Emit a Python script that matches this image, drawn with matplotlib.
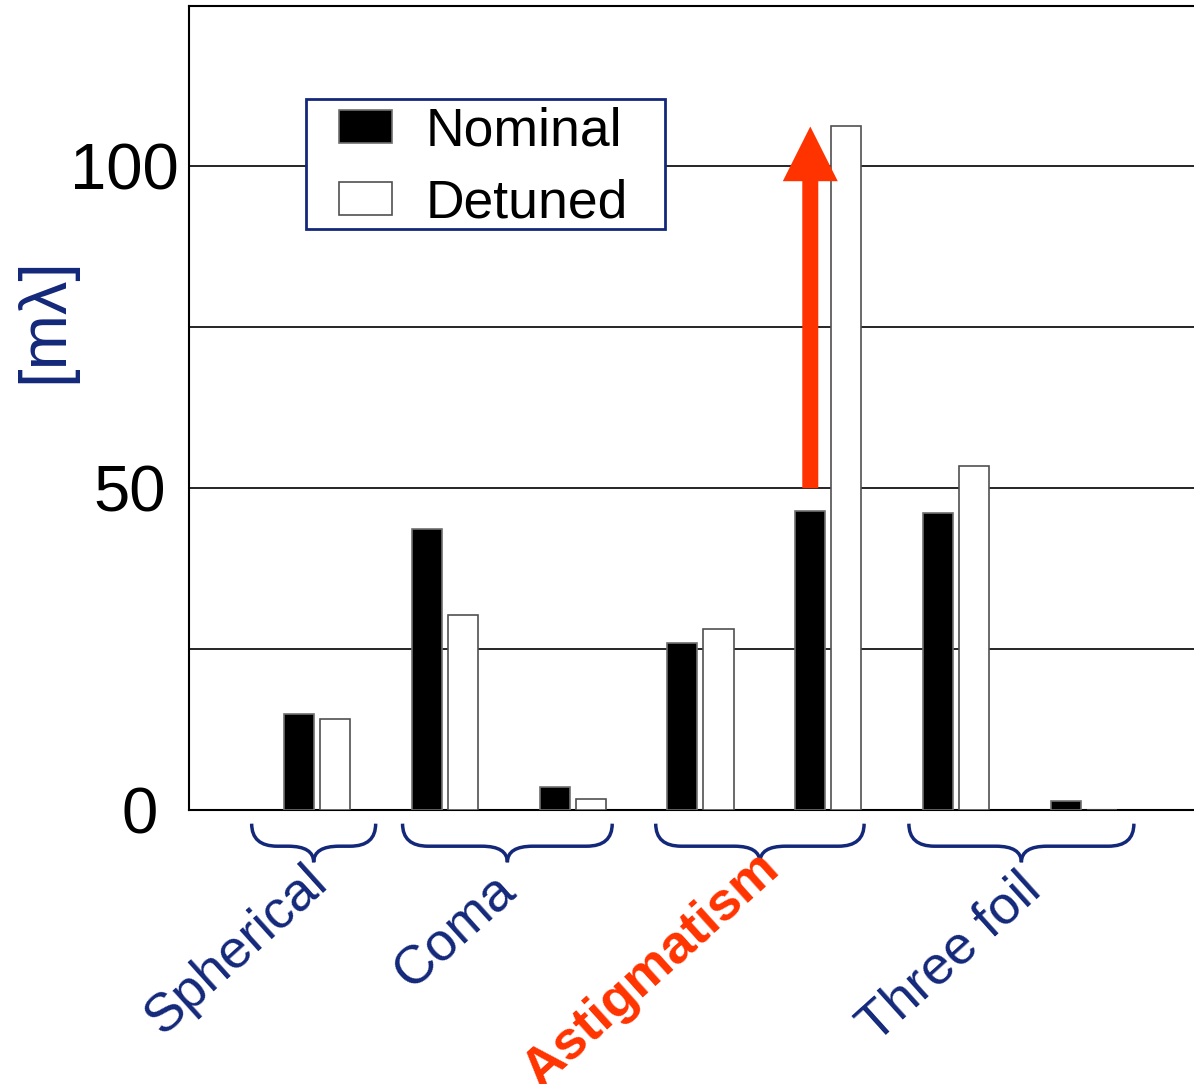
import matplotlib
matplotlib.use('Agg')
import numpy as np
from matplotlib import pyplot as plt
from matplotlib.path import Path
from matplotlib.patches import PathPatch, FancyArrow, Rectangle
from matplotlib import transforms

plt.rcParams['font.family'] = ['Liberation Sans', 'DejaVu Sans']

# bar values [m lambda], one per term, x positions 1..7
nominal = [14.9, 43.6, 3.6, 25.9, 46.5, 46.1, 1.4]
detuned = [14.1, 30.3, 1.7, 28.1, 106.2, 53.5, 0.0]

# aberration groups and the x-range each brace covers
groups = ['Spherical', 'Coma', 'Astigmatism', 'Three foil']
group_span = [(0.49, 1.46), (1.67, 3.31), (3.65, 5.28), (5.63, 7.39)]
group_label_xy = [(237, 950), (455, 932), (652, 970), (950, 958)]  # pixel centres

yticks = [0, 25, 50, 75, 100, 125]
ylabels = ['0', '', '50', '', '100', '']
ylabel_centre_px = [140, 0, 130, 0, 124, 0]  # label centres from left edge

navy = '#14287a'
red = '#ff3300'

fig = plt.figure(figsize=(11.94, 10.84), dpi=100)
ax = fig.add_axes([189/1194, (1084-810)/1084, 1 - 189/1194, (810-5.5)/1084])

x = np.arange(1, len(nominal) + 1)
w = 0.235
off = 0.141
ax.bar(x - off, nominal, w, color='black', edgecolor='#707070', lw=1.2, label='Nominal', zorder=3)
ax.bar(x + off, detuned, w, color='white', edgecolor='#505050', lw=1.2, label='Detuned', zorder=3)

ax.set_xlim(0, 7.86)
ax.set_ylim(0, 125)
ax.set_yticks(yticks)
ax.set_yticklabels(ylabels)
ax.tick_params(axis='y', length=0, pad=0, labelsize=47)
for lab, cx in zip(ax.get_yticklabels(), ylabel_centre_px):
    lab.set_horizontalalignment('center')
    lab.set_transform(lab.get_transform() + transforms.ScaledTranslation((cx - 189)/100, 0, fig.dpi_scale_trans))
ax.set_xticks([])
ax.grid(axis='y', color='black', lw=1.2, zorder=0)
ax.spines['right'].set_visible(False)
for s in ['left', 'top', 'bottom']:
    ax.spines[s].set_linewidth(1.5)

# arrow from nominal to detuned on the big astigmatism term
ax.add_patch(FancyArrow(5 - off, 50, 0, detuned[4] - 50, width=0.125, head_width=0.43,
                        head_length=8.5, length_includes_head=True, color=red, lw=0, zorder=4))

# legend box drawn by hand, legend itself without frame
ax.add_patch(Rectangle((0.116, 0.722), 0.358, 0.162, transform=ax.transAxes,
                       facecolor='white', edgecolor=navy, lw=2, zorder=5))
leg = ax.legend(loc='upper left', bbox_to_anchor=(0.149, 0.875), borderaxespad=0,
                fontsize=38.5, frameon=False, handlelength=1.0,
                handleheight=0.57, handletextpad=0.62, labelspacing=0.42, borderpad=0)
leg.set_zorder(6)

# curly braces under the groups
trans = transforms.blended_transform_factory(ax.transData, ax.transAxes)
ytop, ymid, ytip = -0.017, -0.045, -0.065
r = 0.2
for (a, b) in group_span:
    c = (a + b) / 2
    verts = [(a, ytop), (a, ymid), (a + r, ymid),
             (c - r, ymid), (c, ymid), (c, ytip),
             (c, ymid), (c + r, ymid),
             (b - r, ymid), (b, ymid), (b, ytop)]
    codes = [Path.MOVETO, Path.CURVE3, Path.CURVE3,
             Path.LINETO, Path.CURVE3, Path.CURVE3,
             Path.CURVE3, Path.CURVE3,
             Path.LINETO, Path.CURVE3, Path.CURVE3]
    ax.add_patch(PathPatch(Path(verts, codes), fill=False, edgecolor=navy, lw=2.5,
                           transform=trans, clip_on=False))

for name, (px, py) in zip(groups, group_label_xy):
    bold = name == 'Astigmatism'
    fig.text(px/1194, 1 - py/1084, name, rotation=42, ha='center', va='center',
             fontsize=39, color=red if bold else navy,
             fontweight='bold' if bold else 'normal')

fig.text(45/1194, 1 - 320/1084, '[m\u03bb]', rotation=90, ha='center', va='center',
         fontsize=48, color=navy)

fig.savefig('out.png', dpi=100)
